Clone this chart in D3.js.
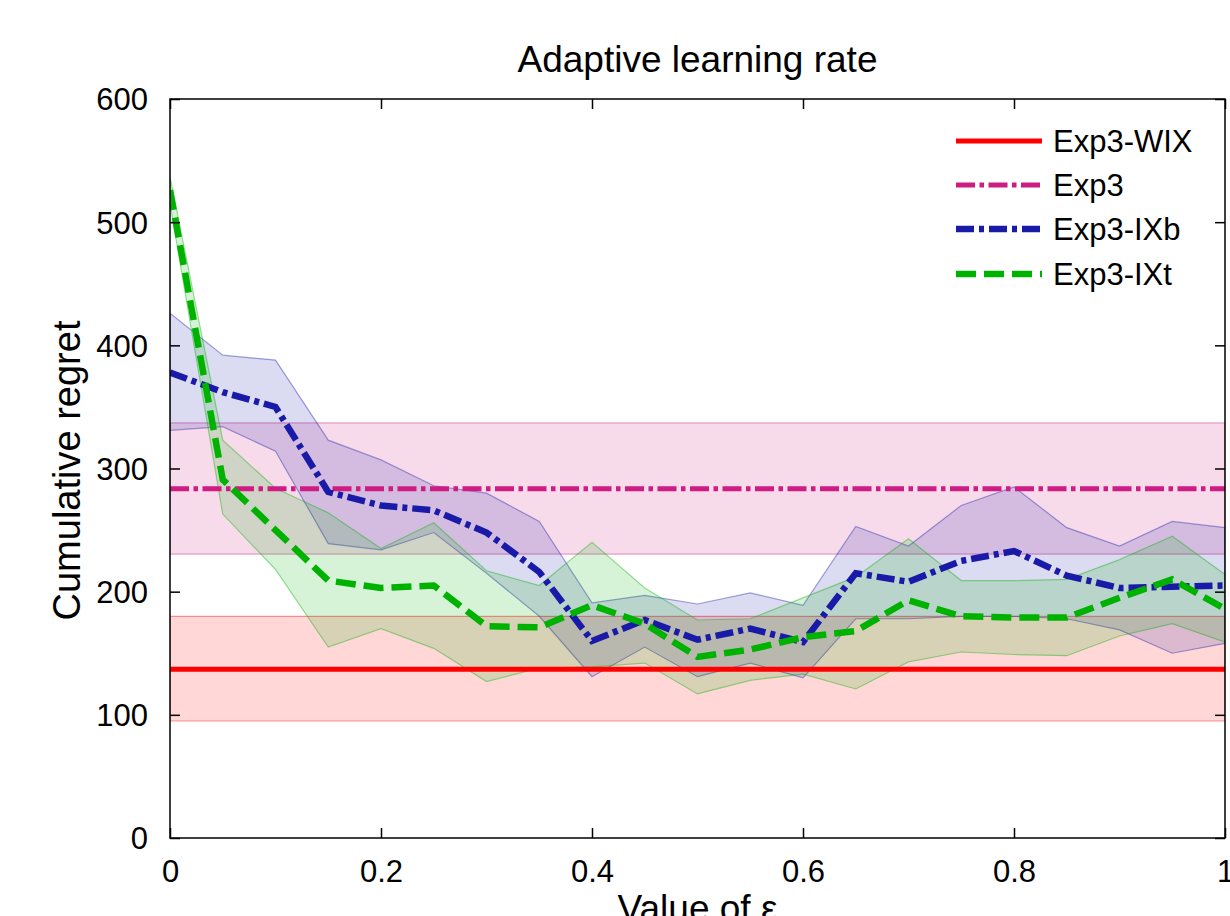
<!DOCTYPE html>
<html>
<head>
<meta charset="utf-8">
<script src="https://cdn.jsdelivr.net/npm/d3@7"></script>
<style>
  html, body { margin: 0; padding: 0; background: #fff; }
  svg { display: block; font-family: "Liberation Sans", Arial, Helvetica, sans-serif; }
</style>
</head>
<body>
<svg id="chart" width="1230" height="916"></svg>
<script>
// ---- data ----
const epsilon = [0, 0.05, 0.1, 0.15, 0.2, 0.25, 0.3, 0.35, 0.4, 0.45, 0.5, 0.55, 0.6, 0.65, 0.7, 0.75, 0.8, 0.85, 0.9, 0.95, 1.0];

const wixMean = 137, wixLower = 95, wixUpper = 180;
const exp3Mean = 283.5, exp3Lower = 230.5, exp3Upper = 337;

const ixbMean  = [378, 362, 350, 281, 270, 266, 248, 216, 160, 177, 161, 170, 159, 215, 208, 225, 233, 213, 203, 204, 205];
const ixbUpper = [426, 392, 388, 323, 307, 286, 280, 257, 191, 197, 190, 199, 189, 253, 237, 270, 285, 252, 237, 257, 252];
const ixbLower = [331, 334, 314, 239, 234, 248, 215, 180, 131, 155, 131, 142, 130, 178, 178, 180, 180, 178, 169, 150, 158];

const ixtMean  = [526, 291, 250, 209, 203, 205, 172, 171, 189, 174, 147, 153, 163, 168, 193, 180, 179, 179, 195, 210, 186];
const ixtUpper = [537, 323, 284, 264, 235, 256, 217, 205, 240, 203, 177, 178, 195, 212, 243, 209, 209, 210, 226, 245, 214];
const ixtLower = [515, 263, 218, 155, 170, 154, 127, 138, 139, 142, 117, 128, 133, 121, 143, 151, 149, 148, 164, 174, 159];

const xTicks = [0, 0.2, 0.4, 0.6, 0.8, 1];
const yTicks = [0, 100, 200, 300, 400, 500, 600];
const legendNames = ["Exp3-WIX", "Exp3", "Exp3-IXb", "Exp3-IXt"];

// ---- layout ----
const svg = d3.select("#chart");
const L = 170, R = 1225, T = 99, B = 838;
const x = d3.scaleLinear().domain([0, 1]).range([L, R]);
const y = d3.scaleLinear().domain([0, 600]).range([B, T]);

const styles = [
  { color: "rgb(255,0,0)",    width: 5,   dash: null },
  { color: "rgb(206,28,130)", width: 5,   dash: "19,4.5,4.5,4.5" },
  { color: "rgb(26,26,168)",  width: 6.5, dash: "18,5,5,5" },
  { color: "rgb(0,178,0)",    width: 6.5, dash: "20,8" }
];

svg.append("clipPath").attr("id", "plotclip")
  .append("rect").attr("x", L).attr("y", T).attr("width", R - L).attr("height", B - T);

const plot = svg.append("g").attr("clip-path", "url(#plotclip)");

// constant series expanded over epsilon
const flat = v => epsilon.map(() => v);
const series = [
  { mean: flat(wixMean),  lo: flat(wixLower),  hi: flat(wixUpper) },
  { mean: flat(exp3Mean), lo: flat(exp3Lower), hi: flat(exp3Upper) },
  { mean: ixbMean, lo: ixbLower, hi: ixbUpper },
  { mean: ixtMean, lo: ixtLower, hi: ixtUpper }
];

const area = d3.area().x((d, i) => x(epsilon[i])).y0(d => y(d[0])).y1(d => y(d[1]));
const line = d3.line().x((d, i) => x(epsilon[i])).y(d => y(d));

series.forEach((s, k) => {
  const pts = s.lo.map((v, i) => [v, s.hi[i]]);
  plot.append("path").attr("d", area(pts))
    .attr("fill", styles[k].color).attr("fill-opacity", 0.155)
    .attr("stroke", styles[k].color).attr("stroke-opacity", 0.4).attr("stroke-width", 1.2);
});

series.forEach((s, k) => {
  plot.append("path").attr("d", line(s.mean))
    .attr("fill", "none").attr("stroke", styles[k].color)
    .attr("stroke-width", styles[k].width)
    .attr("stroke-dasharray", styles[k].dash)
    .attr("stroke-linejoin", "miter");
});

// ---- axes ----
const fontTick = 31;
const axL = svg.append("g").attr("transform", `translate(${L},0)`)
  .call(d3.axisLeft(y).tickValues(yTicks).tickSize(-10).tickSizeOuter(0).tickPadding(22).tickFormat(d3.format("d")));
const axB = svg.append("g").attr("transform", `translate(0,${B})`)
  .call(d3.axisBottom(x).tickValues(xTicks).tickSize(-10).tickSizeOuter(0).tickPadding(22).tickFormat(d => d === 0 ? "0" : d === 1 ? "1" : d3.format(".1f")(d)));
const axR = svg.append("g").attr("transform", `translate(${R},0)`)
  .call(d3.axisRight(y).tickValues(yTicks).tickSize(-10).tickSizeOuter(0).tickFormat(""));
const axT = svg.append("g").attr("transform", `translate(0,${T})`)
  .call(d3.axisTop(x).tickValues(xTicks).tickSize(-10).tickSizeOuter(0).tickFormat(""));

[axL, axB, axR, axT].forEach(a => {
  a.select(".domain").remove();
  a.selectAll(".tick line").attr("stroke", "#000").attr("stroke-width", 1.5);
  a.selectAll("text").attr("font-size", fontTick).attr("fill", "#000")
    .attr("font-family", "'Liberation Sans', Arial, sans-serif");
});
axL.selectAll(".tick text").attr("dy", "0.35em");
axB.selectAll(".tick text").attr("dy", "0.71em");

svg.append("rect").attr("x", L).attr("y", T).attr("width", R - L).attr("height", B - T)
  .attr("fill", "none").attr("stroke", "#000").attr("stroke-width", 1.5);

// ---- labels ----
svg.append("text").attr("x", (L + R) / 2).attr("y", 72)
  .attr("text-anchor", "middle").attr("font-size", 37).text("Adaptive learning rate");
svg.append("text").attr("x", (L + R) / 2).attr("y", 921)
  .attr("text-anchor", "middle").attr("font-size", 37).text("Value of ε");
svg.append("text").attr("transform", `translate(80,${(T + B) / 2 + 2}) rotate(-90)`)
  .attr("text-anchor", "middle").attr("font-size", 38).text("Cumulative regret");

// ---- legend ----
const lg = svg.append("g");
const legY = [141, 185, 229, 274];
legendNames.forEach((name, k) => {
  lg.append("line").attr("x1", 956).attr("x2", 1042).attr("y1", legY[k]).attr("y2", legY[k])
    .attr("stroke", styles[k].color).attr("stroke-width", styles[k].width)
    .attr("stroke-dasharray", styles[k].dash);
  lg.append("text").attr("x", 1053).attr("y", legY[k] + 11).attr("font-size", 31).text(name);
});
</script>
</body>
</html>
